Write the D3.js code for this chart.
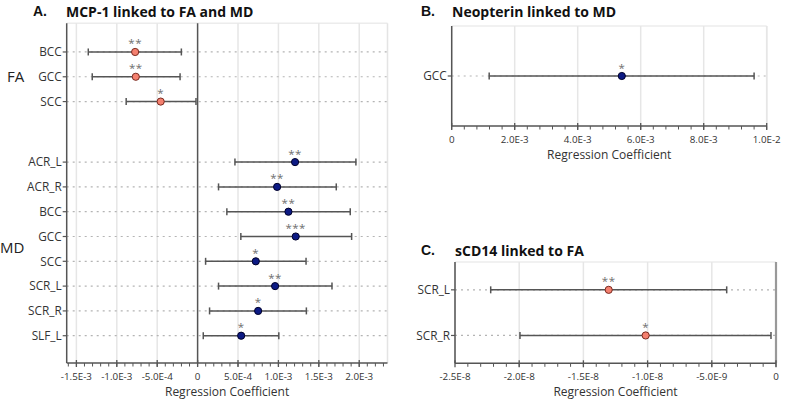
<!DOCTYPE html>
<html><head><meta charset="utf-8">
<script src="https://cdn.jsdelivr.net/npm/d3@7"></script>
<style>
body{margin:0;background:#fff;}
svg{display:block;font-family:"Open Sans",sans-serif;}
</style></head>
<body><svg id="c" width="800" height="400"></svg>
<script>
// ---------- DATA ----------
// Panel A: MCP-1 linked to FA and MD
const faRegions = ["BCC","GCC","SCC"];
const faEst  = [-0.773e-3, -0.765e-3, -0.457e-3];
const faLow  = [-1.353e-3, -1.304e-3, -0.884e-3];
const faHigh = [-0.201e-3, -0.217e-3, -0.020e-3];
const faSig  = ["**","**","*"];

const mdRegions = ["ACR_L","ACR_R","BCC","GCC","SCC","SCR_L","SCR_R","SLF_L"];
const mdEst  = [1.206e-3, 0.984e-3, 1.124e-3, 1.214e-3, 0.720e-3, 0.959e-3, 0.749e-3, 0.539e-3];
const mdLow  = [0.462e-3, 0.259e-3, 0.362e-3, 0.535e-3, 0.099e-3, 0.259e-3, 0.148e-3, 0.070e-3];
const mdHigh = [1.959e-3, 1.716e-3, 1.889e-3, 1.906e-3, 1.342e-3, 1.663e-3, 1.346e-3, 1.005e-3];
const mdSig  = ["**","**","**","***","*","**","*","*"];

const ticksA = [-1.5e-3,-1.0e-3,-5.0e-4,0,5.0e-4,1.0e-3,1.5e-3,2.0e-3];

// Panel B: Neopterin linked to MD
const neoRegions = ["GCC"];
const neoEst  = [5.40e-3];
const neoLow  = [1.19e-3];
const neoHigh = [9.60e-3];
const neoSig  = ["*"];
const ticksB = [0,2.0e-3,4.0e-3,6.0e-3,8.0e-3,1.0e-2];

// Panel C: sCD14 linked to FA
const cdRegions = ["SCR_L","SCR_R"];
const cdEst  = [-1.303e-8, -1.015e-8];
const cdLow  = [-2.222e-8, -1.994e-8];
const cdHigh = [-0.384e-8, -0.039e-8];
const cdSig  = ["**","*"];
const ticksC = [-2.5e-8,-2.0e-8,-1.5e-8,-1.0e-8,-5.0e-9,0];

// ---------- STYLE ----------
const FA_FILL="#f4806f", FA_STROKE="#7a2a20";
const MD_FILL="#0c1a84", MD_STROKE="#00002a";
const fmt = v => v===0 ? "0" : d3.format(".1e")(v).replace("e","E").replace("−","-");

const svg = d3.select("#c");

function zip(regions, est, low, high, sig, group){
  return regions.map((r,i)=>({region:r, est:est[i], low:low[i], high:high[i], sig:sig[i], group, i}));
}

function drawPanel(cfg){
  const {x, y, rows, top, bottom, ticks, minorStep, zeroLine, zeroColor, zeroWidth} = cfg;
  const [x0,x1] = x.range();
  const g = svg.append("g");
  // plot frame (light)
  g.append("line").attr("x1",x0).attr("x2",x1).attr("y1",top).attr("y2",top).attr("stroke","#ececec").attr("stroke-width",1.5);
  g.append("line").attr("x1",x1).attr("x2",x1).attr("y1",top).attr("y2",bottom).attr("stroke","#e4e4e4").attr("stroke-width",1.5);
  // gridlines
  g.selectAll(".grid").data(ticks.filter(t=>t!==0 || !zeroLine)).join("line")
    .attr("x1",d=>x(d)).attr("x2",d=>x(d)).attr("y1",top).attr("y2",bottom)
    .attr("stroke","#e6e6e6").attr("stroke-width",1.5);
  // dotted row lines
  g.selectAll(".row").data(rows).join("line")
    .attr("x1",x0).attr("x2",x1).attr("y1",d=>y(d)).attr("y2",d=>y(d))
    .attr("stroke","#b4b4b4").attr("stroke-width",1.2).attr("stroke-dasharray","2,4");
  // zero line
  if(zeroLine){
    g.append("line").attr("x1",x(0)).attr("x2",x(0)).attr("y1",top).attr("y2",bottom)
      .attr("stroke",zeroColor||"#555").attr("stroke-width",zeroWidth||1.5);
  }
  // axes lines
  g.append("line").attr("x1",x0).attr("x2",x0).attr("y1",top).attr("y2",bottom).attr("stroke","#555").attr("stroke-width",1.5);
  g.append("line").attr("x1",x0).attr("x2",x1).attr("y1",bottom).attr("y2",bottom).attr("stroke","#555").attr("stroke-width",1.5);
  // minor ticks
  const dom = x.domain();
  const minors = d3.range(Math.ceil(dom[0]/minorStep), Math.floor(dom[1]/minorStep)+1).map(k=>k*minorStep);
  g.selectAll(".minor").data(minors).join("line")
    .attr("x1",d=>x(d)).attr("x2",d=>x(d)).attr("y1",bottom).attr("y2",bottom+3.5)
    .attr("stroke","#555").attr("stroke-width",1);
  // major ticks
  g.selectAll(".major").data(ticks).join("line")
    .attr("x1",d=>x(d)).attr("x2",d=>x(d)).attr("y1",bottom-3).attr("y2",bottom+4)
    .attr("stroke","#555").attr("stroke-width",1.3);
  g.selectAll(".tl").data(ticks).join("text")
    .attr("x",d=>x(d)).attr("y",bottom+16.5).attr("text-anchor","middle")
    .attr("font-size",9.8).attr("fill","#333").text(fmt);
  g.append("text").attr("x",(x0+x1)/2).attr("y",bottom+32.5).attr("text-anchor","middle")
    .attr("font-size",12).attr("fill","#333").text("Regression Coefficient");
  // y ticks and labels
  g.selectAll(".yt").data(rows).join("line")
    .attr("x1",x0-4).attr("x2",x0).attr("y1",d=>y(d)).attr("y2",d=>y(d))
    .attr("stroke","#555").attr("stroke-width",1.2);
  g.selectAll(".yl").data(rows).join("text")
    .attr("x",x0-5).attr("y",d=>y(d)).attr("dy","0.36em").attr("text-anchor","end")
    .attr("font-size",11.8).attr("fill","#333").text(d=>d.region);
  // error bars
  g.selectAll(".eb").data(rows).join("line")
    .attr("x1",d=>x(d.low)).attr("x2",d=>x(d.high)).attr("y1",d=>y(d)).attr("y2",d=>y(d))
    .attr("stroke","#555").attr("stroke-width",1.5);
  ["low","high"].forEach(k=>{
    g.selectAll(".cap"+k).data(rows).join("line")
      .attr("x1",d=>x(d[k])).attr("x2",d=>x(d[k])).attr("y1",d=>y(d)-3.5).attr("y2",d=>y(d)+3.5)
      .attr("stroke","#555").attr("stroke-width",1.5);
  });
  g.selectAll(".pt").data(rows).join("circle")
    .attr("cx",d=>x(d.est)).attr("cy",d=>y(d)).attr("r",3.6)
    .attr("fill",d=>d.group==="FA"?FA_FILL:MD_FILL)
    .attr("stroke",d=>d.group==="FA"?FA_STROKE:MD_STROKE).attr("stroke-width",1);
  g.selectAll(".st").data(rows).join("text")
    .attr("x",d=>x(d.est)).attr("y",d=>y(d)-4.5).attr("text-anchor","middle")
    .attr("font-size",11.5).attr("fill","#6e6e6e").attr("letter-spacing",0.5).text(d=>d.sig);
}

function title(letter, text, lx, tx, by){
  svg.append("text").attr("x",lx).attr("y",by-1.5).attr("font-family","Liberation Sans, Arial, sans-serif")
    .attr("font-weight","bold").attr("font-size",14).attr("fill","#111").text(letter);
  svg.append("text").attr("x",tx).attr("y",by).attr("font-weight","bold")
    .attr("font-size",14).attr("fill","#111").text(text);
}

// ---------- PANEL A ----------
const rowsA = zip(faRegions,faEst,faLow,faHigh,faSig,"FA").concat(zip(mdRegions,mdEst,mdLow,mdHigh,mdSig,"MD"));
const groupGapA = 1.44; // extra row spacing between FA and MD blocks
const slotA = d => d.group==="FA" ? d.i : faRegions.length + groupGapA + d.i;
const yLinA = d3.scaleLinear().domain([-1.156, 12.54]).range([23.3, 363]);
const xA = d3.scaleLinear().domain([-1.62e-3, 2.35e-3]).range([66.7, 387.5]);
drawPanel({x:xA, y:d=>yLinA(slotA(d)), rows:rowsA, top:23.3, bottom:363, ticks:ticksA, minorStep:1e-4, zeroLine:true});
title("A.","MCP-1 linked to FA and MD",33,66,17);
svg.append("text").attr("x",7).attr("y",yLinA(1)).attr("dy","0.36em").attr("font-size",15).attr("fill","#222").text("FA");
svg.append("text").attr("x",0).attr("y",247.7).attr("dy","0.36em").attr("font-size",15).attr("fill","#222").text("MD");

// ---------- PANEL B ----------
const rowsB = zip(neoRegions,neoEst,neoLow,neoHigh,neoSig,"MD");
const yB = d3.scalePoint().domain(neoRegions).range([26,126]).padding(1);
const xB = d3.scaleLinear().domain([0,1.0e-2]).range([451.7,766.7]);
drawPanel({x:xB, y:d=>yB(d.region), rows:rowsB, top:26, bottom:126, ticks:ticksB, minorStep:4e-4, zeroLine:false});
title("B.","Neopterin linked to MD",421,452,17);

// ---------- PANEL C ----------
const rowsC = zip(cdRegions,cdEst,cdLow,cdHigh,cdSig,"FA");
const yC = d3.scalePoint().domain(cdRegions).range([262,363.3]).padding(0.61);
const xC = d3.scaleLinear().domain([-2.5e-8,0]).range([455,776]);
drawPanel({x:xC, y:d=>yC(d.region), rows:rowsC, top:262, bottom:363.3, ticks:ticksC, minorStep:1e-9, zeroLine:true, zeroColor:"#999", zeroWidth:2.2});
title("C.","sCD14 linked to FA",421,455,256);
</script></body></html>
